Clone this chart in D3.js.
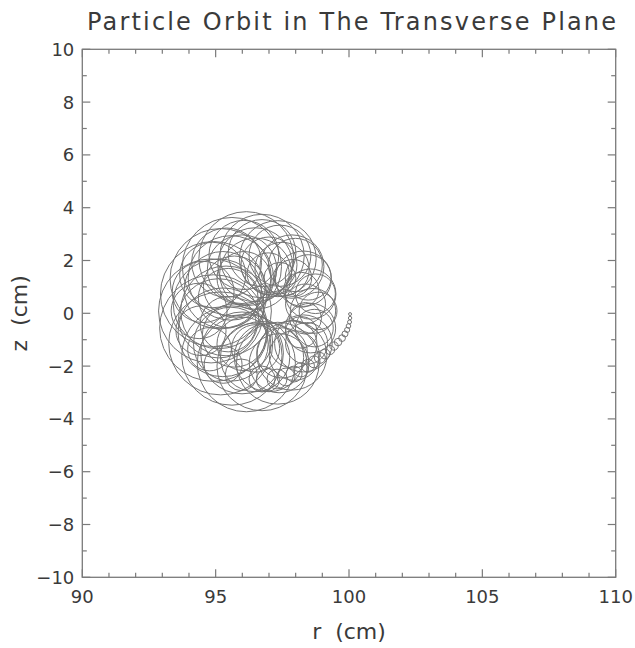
<!DOCTYPE html>
<html>
<head>
<meta charset="utf-8">
<script src="https://cdn.jsdelivr.net/npm/d3@7"></script>
<style>
  html, body { margin: 0; padding: 0; background: #fff; }
  svg { display: block; }
</style>
</head>
<body>
<svg id="chart" width="635" height="648"></svg>
<script>
// Axis ranges and tick labels
const rDomain = [90, 110];
const zDomain = [-10, 10];
const rTickLabels = [90, 95, 100, 105, 110];
const zTickLabels = [-10, -8, -6, -4, -2, 0, 2, 4, 6, 8, 10];
const rMinorTicks = d3.range(90, 111, 1);
const zMinorTicks = d3.range(-10, 11, 1);

// Gyration loops of the orbit, in order along the trajectory:
// guiding-centre position (r, z in cm) and loop radius (cm)
const loopR = [
  // start near r = 100 cm: tight small loops
  100.04, 100.04, 100.02, 99.98, 99.93, 99.85, 99.74, 99.59, 99.44, 99.29,
  99.10, 98.91, 98.69, 98.46, 98.20, 97.94, 97.64, 97.30, 96.96,
  // first turn
  96.74, 95.96, 95.28, 94.77, 94.45, 94.38, 94.53, 94.89, 95.41, 96.06,
  96.74, 97.41, 97.99, 98.47, 98.74, 98.84, 98.70, 98.41, 97.95, 97.38,
  // second turn
  96.74, 96.15, 95.61, 95.19, 94.92, 94.83, 94.92, 95.19, 95.61, 96.15,
  96.74, 97.33, 97.86, 98.29, 98.56, 98.65, 98.56, 98.29, 97.86, 97.33,
  // third turn
  96.48, 95.99, 95.57, 95.27, 95.11, 95.11, 95.27, 95.57, 95.99, 96.48,
  97.00, 97.49, 97.90, 98.21, 98.37, 98.37, 98.21, 97.90, 97.49, 97.00,
  // last partial turn
  96.50, 96.06, 95.70, 95.47, 95.39, 95.47, 95.70, 96.06, 96.50, 96.97, 97.41
];
const loopZ = [
  -0.03, -0.18, -0.33, -0.48, -0.63, -0.78, -0.94, -1.09, -1.24, -1.39,
  -1.54, -1.69, -1.84, -1.99, -2.14, -2.30, -2.41, -2.49, -2.52,
  -2.49, -2.33, -1.94, -1.36, -0.66, 0.09, 0.81, 1.45, 1.92, 2.21,
  2.28, 2.18, 1.83, 1.36, 0.74, 0.09, -0.56, -1.14, -1.60, -1.89,
  -2.00, -1.89, -1.60, -1.14, -0.56, 0.09, 0.73, 1.31, 1.77, 2.07,
  2.17, 2.07, 1.77, 1.31, 0.73, 0.09, -0.56, -1.14, -1.60, -1.89,
  -1.67, -1.50, -1.17, -0.72, -0.19, 0.36, 0.89, 1.34, 1.67, 1.84,
  1.84, 1.67, 1.34, 0.89, 0.36, -0.19, -0.72, -1.17, -1.50, -1.67,
  -1.33, -1.16, -0.84, -0.41, 0.09, 0.58, 1.01, 1.33, 1.50, 1.50, 1.33
];
const loopRadius = [
  0.056, 0.064, 0.075, 0.086, 0.097, 0.112, 0.127, 0.142, 0.157, 0.172,
  0.187, 0.206, 0.225, 0.244, 0.270, 0.300, 0.337, 0.375, 0.431,
  0.49, 0.60, 0.71, 0.82, 0.94, 1.05, 1.16, 1.24, 1.31, 1.31,
  1.27, 1.16, 1.01, 0.86, 0.75, 0.71, 0.71, 0.79, 0.94, 1.12,
  1.69, 1.84, 1.88, 1.95, 2.02, 1.97, 1.99, 1.90, 1.86, 1.78,
  1.58, 1.44, 1.20, 1.05, 0.95, 0.85, 0.94, 1.08, 1.31, 1.55,
  1.30, 1.55, 1.40, 1.68, 1.50, 1.70, 1.45, 1.60, 1.30, 1.40,
  1.05, 1.02, 0.70, 0.66, 0.75, 0.60, 0.60, 0.90, 0.95, 1.30,
  0.90, 1.01, 1.20, 1.05, 1.70, 1.12, 1.16, 1.01, 1.35, 0.79, 0.60
];

const svg = d3.select("#chart");
const plot = { left: 82.3, right: 615.7, top: 49.3, bottom: 577.3 };

const x = d3.scaleLinear().domain(rDomain).range([plot.left, plot.right]);
const y = d3.scaleLinear().domain(zDomain).range([plot.bottom, plot.top]);

const axisColor = "#7a7a7a";
const textColor = "#3a3a3a";
const fontFamily = "'DejaVu Sans', 'Liberation Sans', sans-serif";

// Orbit loops
const loops = loopR.map((r, i) => ({ r, z: loopZ[i], rad: loopRadius[i] }));
svg.append("g")
  .attr("fill", "none")
  .attr("stroke", "#747474")
  .attr("stroke-width", 1)
  .selectAll("ellipse")
  .data(loops)
  .join("ellipse")
  .attr("cx", d => x(d.r))
  .attr("cy", d => y(d.z))
  .attr("rx", d => x(d.r + d.rad) - x(d.r))
  .attr("ry", d => y(d.z) - y(d.z + d.rad));

// Frame
svg.append("rect")
  .attr("x", plot.left).attr("y", plot.top)
  .attr("width", plot.right - plot.left)
  .attr("height", plot.bottom - plot.top)
  .attr("fill", "none")
  .attr("stroke", axisColor)
  .attr("stroke-width", 1.3);

// Inward ticks on all four sides
function tickLen(v, majorSet) { return majorSet.includes(v) ? 8 : 4.5; }

const ticks = svg.append("g").attr("stroke", axisColor).attr("stroke-width", 1.2);
rMinorTicks.forEach(v => {
  const len = tickLen(v, rTickLabels);
  ticks.append("line").attr("x1", x(v)).attr("x2", x(v))
    .attr("y1", plot.bottom).attr("y2", plot.bottom - len);
  ticks.append("line").attr("x1", x(v)).attr("x2", x(v))
    .attr("y1", plot.top).attr("y2", plot.top + len);
});
zMinorTicks.forEach(v => {
  const len = tickLen(v, zTickLabels);
  ticks.append("line").attr("y1", y(v)).attr("y2", y(v))
    .attr("x1", plot.left).attr("x2", plot.left + len);
  ticks.append("line").attr("y1", y(v)).attr("y2", y(v))
    .attr("x1", plot.right).attr("x2", plot.right - len);
});

// Tick labels
const fmt = v => (v < 0 ? "\u2212" + Math.abs(v) : String(v));
svg.append("g")
  .attr("font-family", fontFamily)
  .attr("font-size", 18)
  .attr("fill", textColor)
  .attr("text-anchor", "middle")
  .selectAll("text")
  .data(rTickLabels)
  .join("text")
  .attr("x", d => x(d))
  .attr("y", plot.bottom + 26)
  .text(fmt);

svg.append("g")
  .attr("font-family", fontFamily)
  .attr("font-size", 18)
  .attr("fill", textColor)
  .attr("text-anchor", "end")
  .selectAll("text")
  .data(zTickLabels)
  .join("text")
  .attr("x", plot.left - 8)
  .attr("y", d => y(d))
  .attr("dy", "0.36em")
  .text(fmt);

// Title and axis titles
svg.append("text")
  .attr("x", 87).attr("y", 30)
  .attr("textLength", 529)
  .attr("lengthAdjust", "spacing")
  .attr("font-family", fontFamily)
  .attr("font-size", 24)
  .attr("fill", textColor)
  .text("Particle Orbit in The Transverse Plane");

svg.append("text")
  .attr("x", (plot.left + plot.right) / 2).attr("y", 639)
  .attr("text-anchor", "middle")
  .attr("font-family", fontFamily)
  .attr("font-size", 22)
  .attr("fill", textColor)
  .attr("xml:space", "preserve")
  .text("r  (cm)");

svg.append("text")
  .attr("transform", `translate(27, ${(plot.top + plot.bottom) / 2}) rotate(-90)`)
  .attr("text-anchor", "middle")
  .attr("font-family", fontFamily)
  .attr("font-size", 22)
  .attr("fill", textColor)
  .attr("xml:space", "preserve")
  .text("z  (cm)");
</script>
</body>
</html>
